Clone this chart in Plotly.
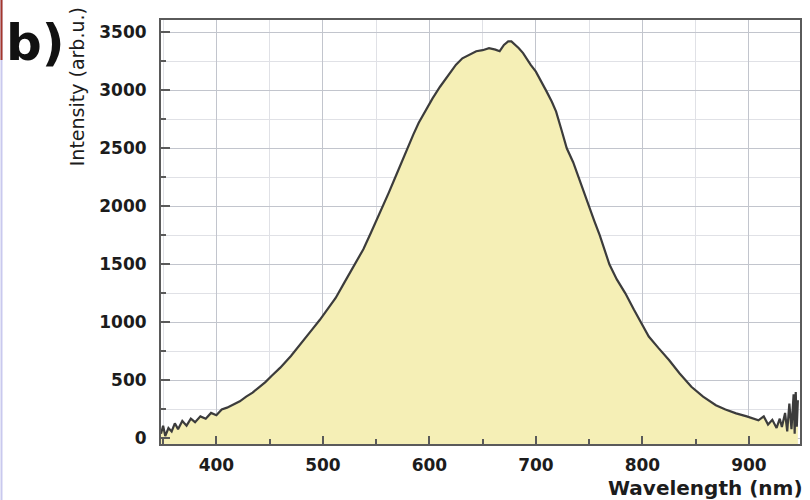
import plotly.graph_objects as go

# Emission spectrum, read as (wavelength, intensity) pairs
wavelength_nm = [
    348, 350, 352, 355, 358, 361, 364, 368, 372, 376, 380, 385, 390, 395,
    400, 405, 410, 416, 422, 428, 434, 440, 446, 452, 460, 470, 480, 490,
    497, 505, 512, 520, 530, 538, 545, 550, 556, 562, 568, 574, 579, 585,
    590, 597, 603, 610, 619, 625, 631, 638, 644, 650, 656, 662, 666, 670,
    674, 677, 681, 684, 688, 691, 695, 700, 705, 710, 715, 719, 724, 729,
    735, 740, 745, 750, 755, 760, 765, 769, 776, 784, 792, 799, 806, 815,
    825, 835, 846, 857, 869, 878, 888, 898, 905, 909, 914, 918, 922, 926,
    929, 931, 934, 936, 938, 940, 942, 943, 944, 945, 946,
]
intensity = [
    40, 110, 20, 90, 60, 130, 80, 150, 110, 170, 140, 190, 170, 220,
    200, 250, 265, 290, 320, 360, 395, 440, 485, 540, 610, 710, 830, 940,
    1020, 1120, 1210, 1340, 1500, 1630, 1770, 1870, 2000, 2120, 2250, 2380, 2500, 2620,
    2720, 2840, 2930, 3030, 3145, 3220, 3275, 3310, 3336, 3345, 3362, 3350, 3336, 3390,
    3420, 3420, 3390, 3362, 3320, 3275, 3220, 3160, 3080, 2990, 2900, 2816, 2660, 2500,
    2380, 2250, 2120, 2000, 1870, 1750, 1610, 1500, 1370, 1250, 1110, 1000, 878, 780,
    676, 560, 445, 360, 286, 250, 216, 190, 170, 156, 190, 120, 160, 90,
    170, 98, 220, 60, 300, 80, 380, 40, 400, 100, 330,
]

x_tickvals = [400, 500, 600, 700, 800, 900]
y_tickvals = [0, 500, 1000, 1500, 2000, 2500, 3000, 3500]

X_RANGE = [348, 948]
Y_RANGE = [-48, 3605]

FILL = "#f5efb6"
LINE = "#3c3c3c"
AXIS = "#5a5a5a"

fig = go.Figure()

# baseline at the bottom of the y range, so the fill reaches the axis
fig.add_trace(go.Scatter(
    x=[wavelength_nm[0], wavelength_nm[-1]], y=[Y_RANGE[0], Y_RANGE[0]],
    mode="lines", line=dict(width=0), hoverinfo="skip", showlegend=False,
))
fig.add_trace(go.Scatter(
    x=wavelength_nm, y=intensity, mode="lines",
    line=dict(color=LINE, width=2.2),
    fill="tonexty", fillcolor=FILL, showlegend=False,
))

tick_font = dict(family="DejaVu Sans", size=17, color="#1c1c1c", weight="bold")

fig.update_xaxes(
    range=X_RANGE, tickvals=x_tickvals,
    showline=True, linecolor=AXIS, linewidth=2, mirror=True,
    ticks="inside", ticklen=8, tickwidth=1.5, tickcolor=AXIS,
    showgrid=True, gridcolor="#c2c5cd", gridwidth=1,
    minor=dict(dtick=50, showgrid=True, gridcolor="#e0e1e6", ticks="inside",
               ticklen=5, tickcolor=AXIS),
    tickfont=tick_font, ticklabelstandoff=5, zeroline=False,
)
fig.update_yaxes(
    range=Y_RANGE, tickvals=y_tickvals,
    showline=True, linecolor=AXIS, linewidth=2, mirror=True,
    ticks="inside", ticklen=9, tickwidth=1.5, tickcolor=AXIS,
    showgrid=True, gridcolor="#c2c5cd", gridwidth=1,
    minor=dict(dtick=250, tick0=0, showgrid=True, gridcolor="#e0e1e6",
               ticks="inside", ticklen=5, tickcolor=AXIS),
    tickfont=tick_font, ticklabelstandoff=9, zeroline=False,
)

L, R, T, B = 161, 8, 20, 56
W, H = 810, 500
pw, ph = W - L - R, H - T - B


def px(x):
    return (x - L) / pw


def py(y):
    return (H - B - y) / ph


fig.update_layout(
    width=W, height=H,
    margin=dict(l=L, r=R, t=T, b=B, pad=0),
    paper_bgcolor="white", plot_bgcolor="white",
    annotations=[
        dict(text="b)", x=px(4), y=py(43), xref="paper", yref="paper",
             xanchor="left", yanchor="middle", showarrow=False,
             font=dict(family="DejaVu Sans", size=50, color="#111111",
                       weight="bold")),
        dict(text="Intensity (arb.u.)", x=px(77), y=py(87), xref="paper",
             yref="paper", textangle=-90, xanchor="center", yanchor="middle",
             showarrow=False,
             font=dict(family="DejaVu Sans", size=19, color="#1c1c1c")),
        dict(text="Wavelength (nm)", x=px(807), y=py(488), xref="paper",
             yref="paper", xanchor="right", yanchor="middle", showarrow=False,
             font=dict(family="DejaVu Sans", size=20, color="#1c1c1c",
                       weight="bold")),
    ],
    shapes=[
        dict(type="line", xref="paper", yref="paper", x0=px(1), x1=px(1),
             y0=py(0), y1=py(H), line=dict(color="#c9c9ee", width=2)),
        dict(type="line", xref="paper", yref="paper", x0=px(1), x1=px(1),
             y0=py(0), y1=py(60), line=dict(color="#a4372c", width=2)),
    ],
)

fig.write_html("out.html")
